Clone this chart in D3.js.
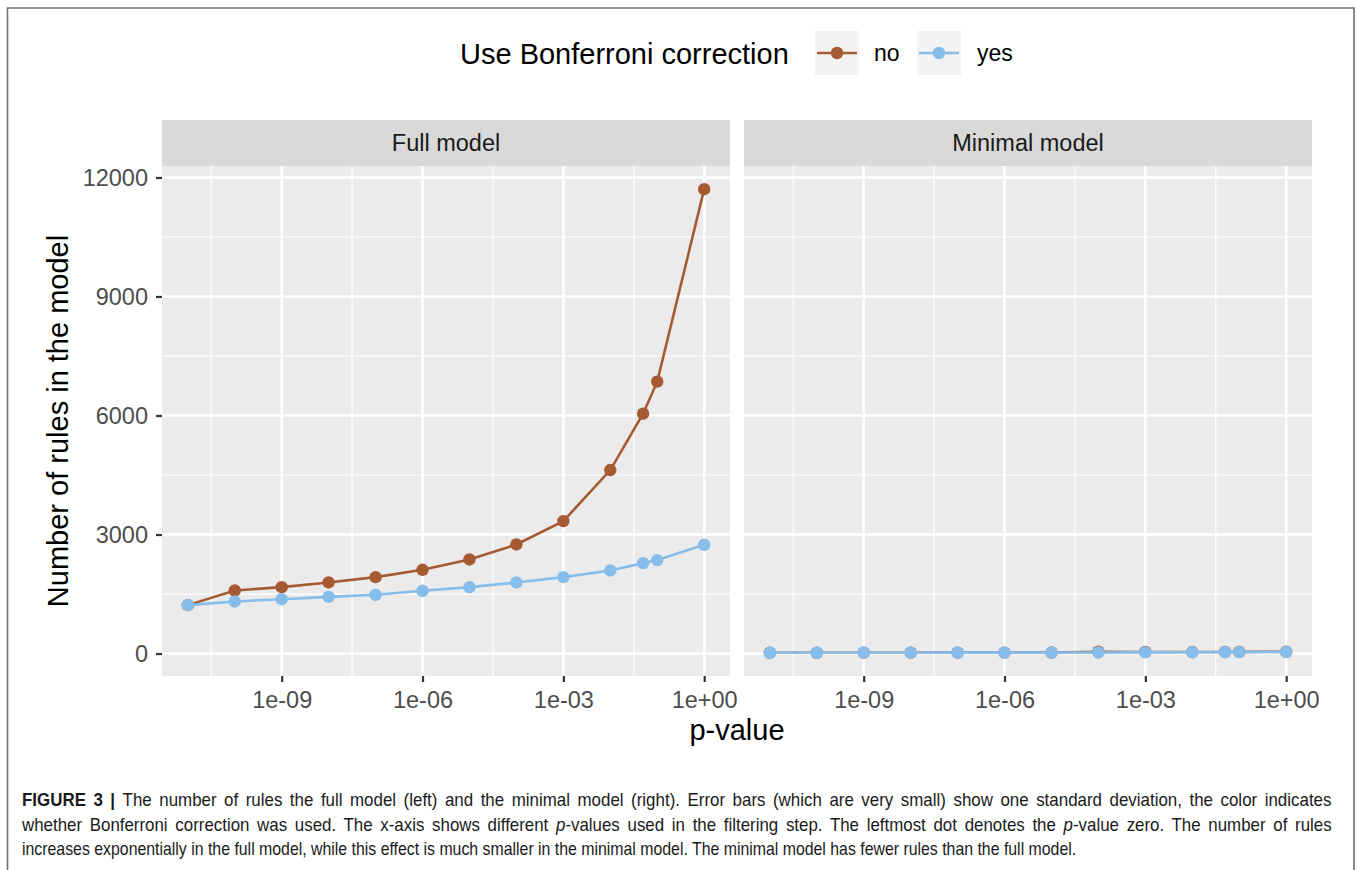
<!DOCTYPE html>
<html>
<head>
<meta charset="utf-8">
<script src="https://cdn.jsdelivr.net/npm/d3@7/dist/d3.min.js"></script>
<style>
  html, body { margin: 0; padding: 0; background: #fff; }
  svg { display: block; font-family: "Liberation Sans", Arial, Helvetica, sans-serif; }
</style>
</head>
<body>
<svg id="fig" width="1357" height="870"></svg>
<script>
// p-value thresholds used in the filtering step (0 is drawn at ZERO_POS on the log axis)
const pValues = [0, 1e-10, 1e-9, 1e-8, 1e-7, 1e-6, 1e-5, 1e-4, 1e-3, 1e-2, 0.05, 0.1, 1];
const ZERO_POS = 1e-11;

const panelNames = ["Full model", "Minimal model"];
const groupNames = ["no", "yes"];

// Number of rules, full model
const fullNo  = [1220, 1589, 1673, 1791, 1926, 2111, 2371, 2749, 3338, 4625, 6046, 6853, 11705];
const fullYes = [1220, 1312, 1370, 1429, 1480, 1581, 1673, 1791, 1926, 2094, 2279, 2355, 2741];
// Number of rules, minimal model
const minimalNo  = [18, 19, 20, 21, 22, 23, 25, 46, 40, 38, 40, 41, 44];
const minimalYes = [18, 19, 20, 21, 22, 23, 24, 26, 30, 32, 35, 36, 40];

const yTicks = [0, 3000, 6000, 9000, 12000];
const yMinor = [1500, 4500, 7500, 10500];
const xTicks = [1e-9, 1e-6, 1e-3, 1];
const xTickLabels = ["1e-09", "1e-06", "1e-03", "1e+00"];
const xMinor = [Math.pow(10, -10.5), Math.pow(10, -7.5), Math.pow(10, -4.5), Math.pow(10, -1.5)];

const colors = { no: "#A65A31", yes: "#86BDEA" };

const seriesByPanel = {
  "Full model":    { no: fullNo,    yes: fullYes },
  "Minimal model": { no: minimalNo, yes: minimalYes }
};

const svg = d3.select("#fig");
const FONT = "'Liberation Sans', Arial, sans-serif";

// figure frame
svg.append("path")
  .attr("d", "M7.5,900 V8 H1354 V900")
  .attr("fill", "none").attr("stroke", "#6e6e6e").attr("stroke-width", 1.6);

// layout
const panelTop = 166, panelBottom = 676, stripTop = 120;
const panelLefts = [162, 744];
const panelW = 568;

// scales (5% expansion like ggplot)
const xPos = p => (p === 0 ? ZERO_POS : p);
const lx = pValues.map(p => Math.log10(xPos(p)));
const lxMin = d3.min(lx), lxMax = d3.max(lx), lxPad = 0.05 * (lxMax - lxMin);
const x = d3.scaleLog()
  .domain([Math.pow(10, lxMin - lxPad), Math.pow(10, lxMax + lxPad)])
  .range([0, panelW]);

const allY = [].concat(fullNo, fullYes, minimalNo, minimalYes);
const yMin = d3.min(allY), yMax = d3.max(allY), yPad = 0.05 * (yMax - yMin);
const y = d3.scaleLinear()
  .domain([yMin - yPad, yMax + yPad])
  .range([panelBottom, panelTop]);

const line = d3.line()
  .x((d, i) => x(xPos(pValues[i])))
  .y(d => y(d));

panelNames.forEach((name, pi) => {
  const g = svg.append("g").attr("transform", `translate(${panelLefts[pi]},0)`);

  // strip
  g.append("rect").attr("x", 0).attr("y", stripTop)
    .attr("width", panelW).attr("height", panelTop - stripTop).attr("fill", "#D9D9D9");
  g.append("text").attr("x", panelW / 2).attr("y", (stripTop + panelTop) / 2)
    .attr("dy", "0.36em").attr("text-anchor", "middle")
    .attr("font-size", 23.5).attr("fill", "#1A1A1A").text(name);

  // panel background
  g.append("rect").attr("x", 0).attr("y", panelTop)
    .attr("width", panelW).attr("height", panelBottom - panelTop).attr("fill", "#EBEBEB");

  // grid
  const grid = g.append("g").attr("stroke", "#fff").attr("fill", "none");
  grid.selectAll("line.ymin").data(yMinor).join("line").attr("class", "ymin")
    .attr("x1", 0).attr("x2", panelW).attr("y1", d => y(d)).attr("y2", d => y(d)).attr("stroke-width", 1.2);
  grid.selectAll("line.xmin").data(xMinor).join("line").attr("class", "xmin")
    .attr("y1", panelTop).attr("y2", panelBottom).attr("x1", d => x(d)).attr("x2", d => x(d)).attr("stroke-width", 1.2);
  grid.selectAll("line.ymaj").data(yTicks).join("line").attr("class", "ymaj")
    .attr("x1", 0).attr("x2", panelW).attr("y1", d => y(d)).attr("y2", d => y(d)).attr("stroke-width", 2.4);
  grid.selectAll("line.xmaj").data(xTicks).join("line").attr("class", "xmaj")
    .attr("y1", panelTop).attr("y2", panelBottom).attr("x1", d => x(d)).attr("x2", d => x(d)).attr("stroke-width", 2.4);

  // series: "no" first, "yes" on top
  groupNames.forEach(grp => {
    const vals = seriesByPanel[name][grp];
    g.append("path").datum(vals)
      .attr("d", line).attr("fill", "none")
      .attr("stroke", colors[grp]).attr("stroke-width", 2.6);
    g.selectAll(`circle.${grp}`).data(vals).join("circle").attr("class", grp)
      .attr("cx", (d, i) => x(xPos(pValues[i]))).attr("cy", d => y(d))
      .attr("r", 6.2).attr("fill", colors[grp]);
  });

  // x axis
  const xAxis = d3.axisBottom(x).tickValues(xTicks)
    .tickFormat((d, i) => xTickLabels[i]).tickSize(6).tickPadding(9);
  const xa = g.append("g").attr("transform", `translate(0,${panelBottom})`).call(xAxis);
  xa.attr("font-family", FONT).attr("font-size", 23.5);
  xa.select(".domain").remove();
  xa.selectAll(".tick line").attr("stroke", "#333").attr("stroke-width", 2.2);
  xa.selectAll(".tick text").attr("fill", "#4D4D4D");

  // y axis on the left panel only
  if (pi === 0) {
    const yAxis = d3.axisLeft(y).tickValues(yTicks).tickFormat(d3.format("d")).tickSize(6).tickPadding(8);
    const ya = g.append("g").call(yAxis);
    ya.attr("font-family", FONT).attr("font-size", 23.5);
    ya.select(".domain").remove();
    ya.selectAll(".tick line").attr("stroke", "#333").attr("stroke-width", 2.2);
    ya.selectAll(".tick text").attr("fill", "#4D4D4D");
  }
});

// axis titles
svg.append("text").attr("x", (panelLefts[0] + panelLefts[1] + panelW) / 2).attr("y", 740)
  .attr("text-anchor", "middle").attr("font-size", 29).attr("fill", "#000").text("p-value");
svg.append("text")
  .attr("transform", `translate(68,${(panelTop + panelBottom) / 2}) rotate(-90)`)
  .attr("text-anchor", "middle").attr("font-size", 29).attr("fill", "#000")
  .text("Number of rules in the model");

// legend
const legend = svg.append("g");
legend.append("text").attr("x", 460).attr("y", 64)
  .attr("font-size", 29).attr("fill", "#000").text("Use Bonferroni correction");
const keyX = [815, 917], labelX = [874, 977], keySize = 44, keyTop = 31;
groupNames.forEach((grp, i) => {
  legend.append("rect").attr("x", keyX[i]).attr("y", keyTop)
    .attr("width", keySize).attr("height", keySize).attr("fill", "#F2F2F2");
  legend.append("line").attr("x1", keyX[i] + 2).attr("x2", keyX[i] + keySize - 2)
    .attr("y1", keyTop + keySize / 2).attr("y2", keyTop + keySize / 2)
    .attr("stroke", colors[grp]).attr("stroke-width", 2.6);
  legend.append("circle").attr("cx", keyX[i] + keySize / 2).attr("cy", keyTop + keySize / 2)
    .attr("r", 6.2).attr("fill", colors[grp]);
  legend.append("text").attr("x", labelX[i]).attr("y", 61)
    .attr("font-size", 23).attr("fill", "#000").text(grp);
});

// caption: condensed, justified paragraph; last line at its natural width
const captionLines = [
  { y: 806, right: 1332, justify: true, parts: [
    { t: "FIGURE 3 | ", b: true },
    { t: "The number of rules the full model (left) and the minimal model (right). Error bars (which are very small) show one standard deviation, the color indicates" } ] },
  { y: 831, right: 1333, justify: true, parts: [
    { t: "whether Bonferroni correction was used. The x-axis shows different " },
    { t: "p", i: true },
    { t: "-values used in the filtering step. The leftmost dot denotes the " },
    { t: "p", i: true },
    { t: "-value zero. The number of rules" } ] },
  { y: 855, right: 1077, justify: false, parts: [
    { t: "increases exponentially in the full model, while this effect is much smaller in the minimal model. The minimal model has fewer rules than the full model." } ] }
];
const capLeft = 22;
const capItems = captionLines.map(l => {
  const g = svg.append("g");
  const t = g.append("text").attr("x", 0).attr("y", l.y)
    .attr("font-family", FONT).attr("font-size", 18).attr("fill", "#1A1A1A")
    .attr("xml:space", "preserve");
  l.parts.forEach(p => {
    const s = t.append("tspan").text(p.t);
    if (p.b) s.attr("font-weight", "bold");
    if (p.i) s.attr("font-style", "italic");
  });
  return { l, g, t, w: t.node().getComputedTextLength() };
});
// the last line fixes the glyph condensing; justified lines split the rest
// between glyph width and word spacing
const last = capItems[capItems.length - 1];
const baseSx = (last.l.right - capLeft) / last.w;
capItems.forEach(it => {
  const target = it.l.right - capLeft;
  let sx = baseSx;
  if (it.l.justify) {
    sx = (baseSx + target / it.w) / 2;
    const spaces = it.l.parts.map(p => p.t).join("").split(" ").length - 1;
    it.t.attr("word-spacing", (target / sx - it.w) / spaces);
  }
  it.g.attr("transform", `translate(${capLeft},0) scale(${sx},1)`);
});
</script>
</body>
</html>
